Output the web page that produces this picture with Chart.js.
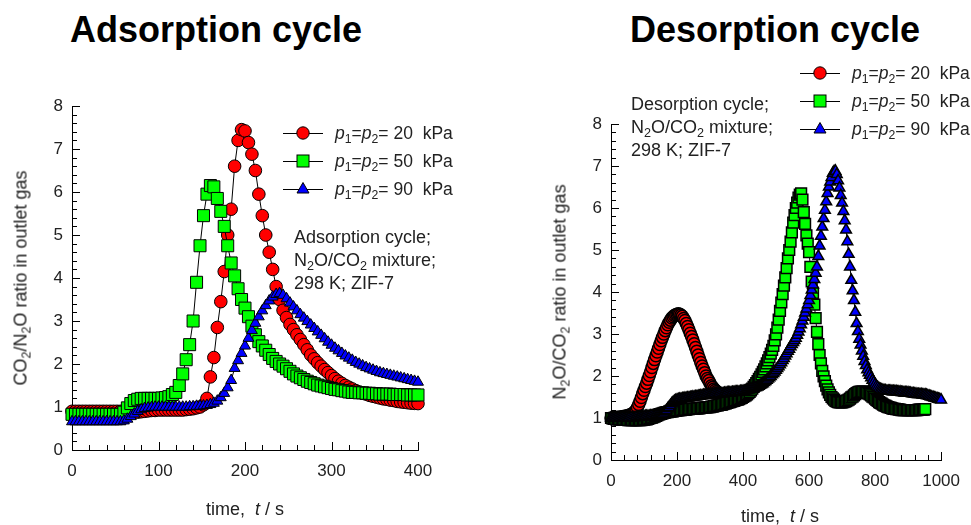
<!DOCTYPE html>
<html>
<head>
<meta charset="utf-8">
<title>ZIF-7 outlet gas ratios</title>
<script src="https://cdn.jsdelivr.net/npm/chart.js@4.4.1/dist/chart.umd.min.js"></script>
<style>
  html, body { margin: 0; padding: 0; background: #fff; }
  body { width: 971px; height: 525px; position: relative; overflow: hidden;
         font-family: "Liberation Sans", Arial, sans-serif; color: #222; }
  canvas { position: absolute; top: 0; }
  #adsChart { left: 0; }
  #desChart { left: 540px; }
  .title { position: absolute; top: 10px; font-size: 36px; line-height: 40px; font-weight: bold; color: #000; white-space: nowrap; }
  .ytitle { position: absolute; font-size: 18px; white-space: nowrap; transform: translate(-50%, -50%) rotate(-90deg); }
  .xtitle { position: absolute; font-size: 18px; white-space: nowrap; transform: translate(-50%, -50%); }
  .note { position: absolute; font-size: 18px; line-height: 23px; white-space: nowrap; }
  .legend { position: absolute; font-size: 17.5px; }
  .legend div { height: 28px; display: flex; align-items: center; white-space: nowrap; }
  .legend svg { margin-right: 12px; overflow: visible; flex: none; }
  sub { font-size: 0.7em; vertical-align: -0.3em; line-height: 0; }
</style>
</head>
<body>
<div class="title" style="left:70px">Adsorption cycle</div>
<div class="title" style="left:630px">Desorption cycle</div>

<canvas id="adsChart" width="480" height="525"></canvas>
<canvas id="desChart" width="431" height="525"></canvas>

<div class="ytitle" style="left:21px; top:278px">CO<sub>2</sub>/N<sub>2</sub>O ratio in outlet gas</div>
<div class="ytitle" style="left:560px; top:292px">N<sub>2</sub>O/CO<sub>2</sub> ratio in outlet gas</div>
<div class="xtitle" style="left:245px; top:509px">time,&nbsp; <i>t</i> / s</div>
<div class="xtitle" style="left:780px; top:516px">time,&nbsp; <i>t</i> / s</div>

<div class="note" style="left:294px; top:226px">Adsorption cycle;<br>N<sub>2</sub>O/CO<sub>2</sub> mixture;<br>298 K; ZIF-7</div>
<div class="note" style="left:631px; top:93px">Desorption cycle;<br>N<sub>2</sub>O/CO<sub>2</sub> mixture;<br>298 K; ZIF-7</div>

<div class="legend" id="adsLegend" style="left:283px; top:119px"></div>
<div class="legend" id="desLegend" style="left:800px; top:59px"></div>

<script>
// feed pressure p1 = p2 of each run (kPa)
const pressures = [20, 50, 90];

// seconds between logged readings
const adsStep = 4;
const desStep = 4;

// adsorption cycle: CO2/N2O ratio, t = 0..400 s
const ads20 = [
  0.9, 0.9, 0.9, 0.9, 0.9, 0.9, 0.9, 0.9, 0.9, 0.9, 0.9, 0.9, 0.9, 0.9, 0.9,
  0.9, 0.89, 0.88, 0.88, 0.88, 0.89, 0.9, 0.91, 0.92, 0.92,
  0.93, 0.93, 0.93, 0.93, 0.93, 0.93, 0.93, 0.93, 0.94, 0.95, 0.96, 0.98,
  1.0, 1.05, 1.2, 1.7, 2.15, 2.85, 3.45, 4.15, 5.0, 5.6, 6.6, 7.2, 7.45,
  7.42, 7.15, 6.88, 6.5, 5.95, 5.45, 5.0, 4.6, 4.2, 3.8, 3.5,
  3.25, 3.08, 2.92, 2.8, 2.68, 2.57, 2.45, 2.33, 2.21, 2.12,
  2.03, 1.95, 1.87, 1.8, 1.73, 1.66, 1.6, 1.55, 1.5, 1.46,
  1.42, 1.38, 1.35, 1.32, 1.3, 1.27, 1.25, 1.23, 1.21, 1.19,
  1.18, 1.16, 1.15, 1.13, 1.12, 1.11, 1.1, 1.09, 1.085, 1.08
];
const ads50 = [
  0.83, 0.83, 0.83, 0.83, 0.83, 0.83, 0.83, 0.83, 0.83, 0.83, 0.83, 0.83, 0.83, 0.83, 0.83,
  0.88, 0.98, 1.08, 1.15, 1.18, 1.2, 1.2, 1.2, 1.2, 1.2,
  1.2, 1.21, 1.22, 1.24, 1.29, 1.34, 1.5, 1.77, 2.1, 2.45, 3.0, 3.9,
  4.75, 5.45, 5.95, 6.15, 6.12, 5.85, 5.55, 5.2, 4.75, 4.35, 4.05, 3.75, 3.5,
  3.3, 3.1, 2.88, 2.68, 2.52, 2.42, 2.32, 2.22, 2.13, 2.06, 2.0,
  1.95, 1.89, 1.83, 1.77, 1.72, 1.68, 1.64, 1.6, 1.57, 1.54,
  1.51, 1.49, 1.47, 1.45, 1.43, 1.41, 1.4, 1.38, 1.37, 1.35,
  1.34, 1.34, 1.33, 1.33, 1.32, 1.32, 1.31, 1.31, 1.3, 1.3,
  1.3, 1.3, 1.29, 1.29, 1.29, 1.29, 1.28, 1.28, 1.28, 1.28
];
const ads90 = [
  0.66, 0.66, 0.66, 0.66, 0.66, 0.66, 0.66, 0.66, 0.66, 0.66, 0.66, 0.66, 0.66, 0.66, 0.66,
  0.68, 0.72, 0.78, 0.84, 0.9, 0.94, 0.97, 0.98, 0.99, 1.0,
  1.0, 1.0, 1.0, 1.0, 1.0, 1.0, 1.0, 1.0, 1.0, 1.01, 1.01, 1.02,
  1.02, 1.03, 1.04, 1.06, 1.09, 1.14, 1.22, 1.32, 1.45, 1.62, 1.9, 2.08, 2.25,
  2.42, 2.6, 2.78, 2.95, 3.1, 3.24, 3.36, 3.47, 3.56, 3.62, 3.64,
  3.6, 3.52, 3.42, 3.33, 3.24, 3.15, 3.07, 2.99, 2.91, 2.83,
  2.75, 2.67, 2.59, 2.51, 2.44, 2.37, 2.31, 2.25, 2.19, 2.14,
  2.09, 2.04, 2.0, 1.96, 1.92, 1.89, 1.86, 1.83, 1.8, 1.78,
  1.76, 1.74, 1.72, 1.7, 1.68, 1.66, 1.64, 1.62, 1.6, 1.58
];

// desorption cycle: N2O/CO2 ratio (one row = 40 s)
const des20 = [
  1.0, 1.0, 1.0, 1.0, 1.01, 1.01, 1.02, 1.02, 1.03, 1.03,
  1.04, 1.04, 1.05, 1.06, 1.07, 1.08, 1.1, 1.12, 1.15, 1.19,
  1.25, 1.32, 1.4, 1.49, 1.58, 1.66, 1.75, 1.83, 1.92, 2.01,
  2.1, 2.2, 2.3, 2.39, 2.48, 2.57, 2.66, 2.75, 2.84, 2.92,
  3.0, 3.08, 3.15, 3.22, 3.28, 3.33, 3.38, 3.41, 3.44, 3.46,
  3.47, 3.48, 3.47, 3.45, 3.42, 3.37, 3.32, 3.25, 3.18, 3.1,
  3.02, 2.94, 2.86, 2.77, 2.68, 2.59, 2.5, 2.41, 2.32, 2.24,
  2.16, 2.08, 2.0, 1.94, 1.89, 1.83, 1.77, 1.73, 1.69, 1.66,
  1.63, 1.6, 1.58
];
const des50 = [
  1.0, 0.99, 0.98, 0.98, 0.97, 0.97, 0.97, 0.97, 0.96, 0.96,
  0.96, 0.96, 0.96, 0.95, 0.95, 0.95, 0.95, 0.95, 0.95, 0.95,
  0.95, 0.95, 0.95, 0.95, 0.96, 0.96, 0.97, 0.97, 0.98, 0.99,
  1.0, 1.01, 1.02, 1.03, 1.05, 1.06, 1.08, 1.09, 1.1, 1.11,
  1.12, 1.13, 1.14, 1.14, 1.15, 1.15, 1.16, 1.16, 1.17, 1.17,
  1.18, 1.18, 1.19, 1.19, 1.2, 1.2, 1.2, 1.2, 1.21, 1.21,
  1.22, 1.22, 1.22, 1.22, 1.23, 1.23, 1.23, 1.23, 1.24, 1.24,
  1.25, 1.25, 1.25, 1.25, 1.26, 1.26, 1.27, 1.27, 1.28, 1.29,
  1.3, 1.3, 1.31, 1.31, 1.32, 1.33, 1.34, 1.35, 1.36, 1.37,
  1.38, 1.39, 1.4, 1.41, 1.42, 1.43, 1.44, 1.45, 1.47, 1.48,
  1.5, 1.52, 1.54, 1.56, 1.59, 1.62, 1.66, 1.7, 1.74, 1.78,
  1.83, 1.88, 1.93, 1.98, 2.04, 2.1, 2.16, 2.23, 2.3, 2.37,
  2.45, 2.53, 2.62, 2.72, 2.85, 2.99, 3.15, 3.34, 3.55, 3.75,
  3.95, 4.15, 4.35, 4.57, 4.8, 5.0, 5.2, 5.42, 5.65, 5.83,
  6.0, 6.13, 6.25, 6.32, 6.35, 6.2, 5.9, 5.62, 5.35, 5.15,
  4.95, 4.6, 4.25, 3.98, 3.7, 3.38, 3.05, 2.76, 2.5, 2.3,
  2.12, 1.99, 1.88, 1.77, 1.68, 1.61, 1.55, 1.5, 1.47, 1.44,
  1.41, 1.39, 1.38, 1.37, 1.37, 1.37, 1.38, 1.39, 1.4, 1.42,
  1.44, 1.46, 1.49, 1.51, 1.54, 1.57, 1.59, 1.61, 1.62, 1.63,
  1.63, 1.63, 1.62, 1.61, 1.6, 1.58, 1.56, 1.54, 1.51, 1.49,
  1.46, 1.43, 1.41, 1.38, 1.36, 1.34, 1.32, 1.3, 1.29, 1.27,
  1.26, 1.25, 1.24, 1.23, 1.22, 1.22, 1.21, 1.21, 1.2, 1.2,
  1.19, 1.19, 1.19, 1.19, 1.19, 1.19, 1.19, 1.19, 1.19, 1.19,
  1.19, 1.19, 1.19, 1.2, 1.2, 1.2, 1.2, 1.2, 1.21
];
const des90 = [
  1.0, 1.0, 1.0, 1.0, 1.0, 1.0, 1.0, 1.0, 1.0, 1.0,
  1.0, 1.0, 1.0, 1.0, 1.01, 1.01, 1.01, 1.01, 1.01, 1.02,
  1.02, 1.02, 1.03, 1.03, 1.03, 1.03, 1.04, 1.04, 1.04, 1.04,
  1.05, 1.05, 1.05, 1.05, 1.06, 1.06, 1.07, 1.08, 1.09, 1.1,
  1.12, 1.15, 1.18, 1.22, 1.26, 1.3, 1.34, 1.37, 1.4, 1.42,
  1.43, 1.44, 1.45, 1.45, 1.46, 1.46, 1.47, 1.47, 1.48, 1.48,
  1.49, 1.49, 1.5, 1.5, 1.51, 1.51, 1.52, 1.52, 1.53, 1.53,
  1.54, 1.54, 1.55, 1.55, 1.55, 1.55, 1.56, 1.56, 1.57, 1.57,
  1.57, 1.57, 1.58, 1.58, 1.58, 1.58, 1.59, 1.59, 1.6, 1.6,
  1.6, 1.6, 1.61, 1.61, 1.62, 1.62, 1.62, 1.62, 1.63, 1.63,
  1.64, 1.64, 1.65, 1.66, 1.67, 1.68, 1.69, 1.7, 1.71, 1.72,
  1.73, 1.74, 1.76, 1.78, 1.8, 1.82, 1.85, 1.87, 1.9, 1.93,
  1.96, 1.99, 2.03, 2.06, 2.1, 2.14, 2.18, 2.22, 2.27, 2.32,
  2.37, 2.42, 2.48, 2.53, 2.59, 2.64, 2.7, 2.75, 2.8, 2.85,
  2.9, 2.97, 3.05, 3.13, 3.22, 3.31, 3.4, 3.5, 3.6, 3.7,
  3.8, 3.92, 4.05, 4.17, 4.3, 4.45, 4.6, 4.85, 5.1, 5.33,
  5.55, 5.75, 5.95, 6.15, 6.35, 6.5, 6.62, 6.73, 6.83, 6.87,
  6.88, 6.8, 6.65, 6.48, 6.3, 6.12, 5.92, 5.7, 5.48, 5.2,
  4.9, 4.6, 4.28, 4.03, 3.8, 3.52, 3.25, 3.06, 2.88, 2.74,
  2.6, 2.47, 2.35, 2.25, 2.15, 2.08, 2.02, 1.96, 1.9, 1.85,
  1.8, 1.76, 1.73, 1.7, 1.68, 1.67, 1.66, 1.65, 1.65, 1.64,
  1.64, 1.64, 1.64, 1.63, 1.63, 1.63, 1.63, 1.62, 1.62, 1.62,
  1.61, 1.61, 1.6, 1.6, 1.6, 1.6, 1.59, 1.59, 1.58, 1.58,
  1.57, 1.57, 1.56, 1.56, 1.56, 1.56, 1.55, 1.55, 1.55, 1.54,
  1.53, 1.52, 1.51, 1.5, 1.49, 1.48, 1.47, 1.46, 1.45, 1.44,
  1.43
];

// axis tick labels
const adsXTicks = [0, 100, 200, 300, 400];
const desXTicks = [0, 200, 400, 600, 800, 1000];
const yTicks = [0, 1, 2, 3, 4, 5, 6, 7, 8];

// symbol per run; lower order is drawn on top
const symbols = [
  { style: 'circle', fill: '#ff0000', order: 3 },
  { style: 'rect', fill: '#00ff00', order: 2 },
  { style: 'triangle', fill: '#0000ff', order: 1 }
];

// short inward ticks, five minor steps per labelled step
const innerTicks = {
  id: 'innerTicks',
  beforeDatasetsDraw(chart, args, opts) {
    const { ctx, chartArea: area, scales: { x, y } } = chart;
    ctx.save();
    ctx.strokeStyle = '#000';
    ctx.lineWidth = 1;
    ctx.beginPath();
    const nx = Math.round((x.max - x.min) / opts.xMinor);
    for (let i = 0; i <= nx; i++) {
      const px = Math.round(x.getPixelForValue(x.min + i * opts.xMinor)) + 0.5;
      ctx.moveTo(px, area.bottom);
      ctx.lineTo(px, area.bottom - (i % 5 === 0 ? 8 : 5));
    }
    const ny = Math.round((y.max - y.min) / opts.yMinor);
    for (let i = 0; i <= ny; i++) {
      const py = Math.round(y.getPixelForValue(y.min + i * opts.yMinor)) + 0.5;
      ctx.moveTo(area.left, py);
      ctx.lineTo(area.left + (i % 5 === 0 ? 8 : 5), py);
    }
    ctx.stroke();
    ctx.restore();
  }
};

const tickFont = { family: '"Liberation Sans", Arial, sans-serif', size: 17 };

function makeChart(id, cfg) {
  const datasets = cfg.series.map((vals, i) => {
    const s = symbols[i];
    return {
      label: pressures[i] + ' kPa',
      data: vals.map((v, k) => ({ x: k * cfg.step, y: v })),
      showLine: true,
      borderColor: '#000',
      borderWidth: 1,
      pointStyle: s.style,
      pointRadius: cfg.radius[s.style],
      pointBackgroundColor: s.fill,
      pointBorderColor: '#000',
      pointBorderWidth: cfg.markerBorder,
      order: s.order,
      clip: false
    };
  });

  return new Chart(document.getElementById(id), {
    type: 'line',
    data: { datasets },
    plugins: [innerTicks],
    options: {
      responsive: false,
      animation: false,
      events: [],
      layout: { padding: cfg.padding },
      plugins: {
        legend: { display: false },
        tooltip: { enabled: false },
        innerTicks: { xMinor: cfg.xMinor, yMinor: 0.2 }
      },
      scales: {
        x: {
          type: 'linear',
          min: cfg.xTicks[0],
          max: cfg.xTicks[cfg.xTicks.length - 1],
          ticks: {
            stepSize: cfg.xTicks[1] - cfg.xTicks[0],
            color: '#222', font: tickFont, padding: 11, maxRotation: 0,
            callback: (v) => String(v)
          },
          grid: { display: false, drawTicks: false },
          border: { color: '#000', width: 1 },
          afterFit: (s) => { s.height = 40; }
        },
        y: {
          min: yTicks[0],
          max: yTicks[yTicks.length - 1],
          ticks: { stepSize: yTicks[1] - yTicks[0], color: '#222', font: tickFont, padding: 9 },
          grid: { display: false, drawTicks: false },
          border: { color: '#000', width: 1 },
          afterFit: (s) => { s.width = cfg.yWidth; }
        }
      }
    }
  });
}

makeChart('adsChart', {
  series: [ads20, ads50, ads90],
  step: adsStep,
  xTicks: adsXTicks,
  xMinor: 20,
  radius: { circle: 6.3, rect: 8.5, triangle: 6.3 },
  markerBorder: 1,
  yWidth: 72,
  padding: { left: 0, right: 62, top: 106, bottom: 35 }
});

// dense desorption log: heavier outlines so overlapping symbols read dark
makeChart('desChart', {
  series: [des20, des50, des90],
  step: desStep,
  xTicks: desXTicks,
  xMinor: 40,
  radius: { circle: 6, rect: 7.6, triangle: 6.2 },
  markerBorder: 1.5,
  yWidth: 71,
  padding: { left: 0, right: 22, top: 124, bottom: 25 }
});

// legend keys: black line through the run's symbol
function keySvg(s) {
  let mark;
  if (s.style === 'circle') {
    mark = `<circle cx="20" cy="8" r="6.2" fill="${s.fill}" stroke="#000"/>`;
  } else if (s.style === 'rect') {
    mark = `<rect x="14" y="2" width="12" height="12" fill="${s.fill}" stroke="#000"/>`;
  } else {
    mark = `<polygon points="20,1.5 26,12 14,12" fill="${s.fill}" stroke="#000"/>`;
  }
  return `<svg width="40" height="16"><line x1="0" y1="8.5" x2="40" y2="8.5" stroke="#000"/>${mark}</svg>`;
}

for (const id of ['adsLegend', 'desLegend']) {
  document.getElementById(id).innerHTML = pressures.map((p, i) =>
    `<div>${keySvg(symbols[i])}<span><i>p</i><sub>1</sub>=<i>p</i><sub>2</sub>= ${p}&nbsp; kPa</span></div>`
  ).join('');
}
</script>
</body>
</html>
